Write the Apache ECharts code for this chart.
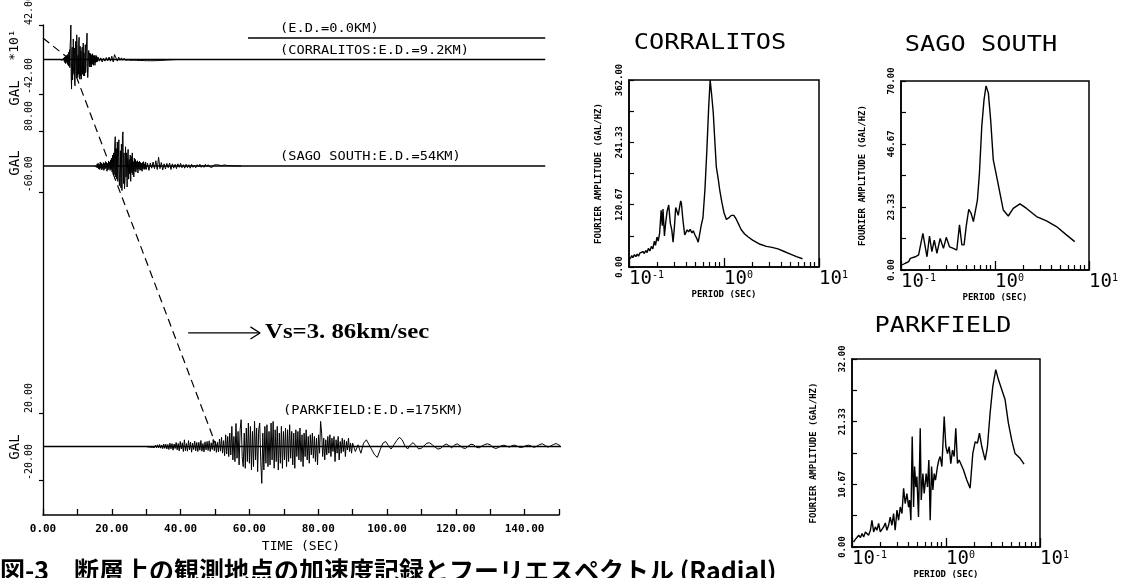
<!DOCTYPE html>
<html><head><meta charset="utf-8">
<script src="https://cdn.jsdelivr.net/npm/echarts@6/dist/echarts.min.js"></script>
<style>html,body{margin:0;padding:0;background:#fff}#c{width:1124px;height:578px}</style>
</head><body><div id="c"></div>
<script>
// ---------- time axis ----------
const timeLabels = [0, 20, 40, 60, 80, 100, 120, 140];

// ---------- accelerograms (sampled segments) ----------
// CORRALITOS (x10 GAL)
const corrA_t0 = 5.0, corrA_dt = 0.1;
const corrAccA = [
 0,0.5,-0.5,0.8,-0.6,1,-1,0.5,-0.8,1.2,
 -1.5,2,-2.5,3,-4,3.5,-5,4,-3,5,
 -4,6,-6,4,-8,9,-7,12,-10,18,
 25,42,-20,-36,10,15,-25,-12,25,8,
 -18,14,-28,-32,12,22,-15,-20,30,18,
 -10,-22,5,-18,20,27,-12,-24,16,-20,
 10,-24,-16,12,15,-18,-10,20,-20,8,
 -14,-20,6,18,-16,-8,14,22,32,-10,
 -22,-14,6,11,-6,-9,8,-5,7,-9,
 5,-9,6,-6,7,-4,5,-7,4,-3,
 5,-7,3,-4,5,-3,4,-3,2,-2];
const corrB_t0 = 16.0, corrB_dt = 0.4;
const corrAccB = [
 3,-2,2,-3,1.5,-2,2.5,-1.5,3,-2,
 4,-3,6,8,-2,3,-1,2,-1,1.5,
 -1,1,-0.5,0.5,-1,0,-0.8,-0.5,-1,-1.2,
 -1.3,-1.5,-1.2,-1.5,-1.4,-1.6,-1.5,-1.3,-1.5,-1.4,
 -1.5,-1.3,-1.4,-1.2,-1.3,-1,-1.1,-0.8,-0.9,-0.6,
 -0.6,-0.5,-0.4,-0.3,-0.3,-0.2,-0.1,0,0,0];
// SAGO SOUTH (GAL)
const sagoA_t0 = 15.0, sagoA_dt = 0.15;
const sagoAccA = [
 0,0.5,-1,2,-3,5,-4,6,-7,4,
 -8,9,-5,7,-9,4,-6,8,-10,6,
 -7,10,-5,8,-12,6,-9,11,-6,9,
 -10,14,-8,18,-14,25,-18,30,-20,45,
 67,-25,40,-30,55,-35,20,60,-45,-20,
 35,-50,50,-56,70,78,-40,30,-52,-30,
 44,-25,30,-48,20,38,-30,15,-18,25,
 -35,22,-15,30,-20,10,-25,18,-12,15,
 -14,10,-8,12,-16,9,-7,11,-10,8,
 -9,6,-12,8,-6,10,-8,5,-7,9];
const sagoB_t0 = 30.0, sagoB_dt = 0.4;
const sagoAccB = [
 -8,6,-10,7,-5,9,-6,12,-8,20,
 -6,8,-9,5,-7,6,-4,7,-8,5,
 -5,4,-6,5,-3,6,-4,3,-5,4,
 -4,3,-5,4,-3,2,-4,3,-2,4,
 -3,2,-3,4,-2,3,-2,2,-3,2,
 -2,3,-1.5,2,-2,1,-2,2.5,-1,1,
 -1.5,1,-1,0.5,-0.5,0.5,0,0,0,0];
// PARKFIELD (GAL)
const parkA_t0 = 30.0, parkA_dt = 0.3;
const parkAccA = [
 0,0.3,-0.3,0.5,-0.4,0.6,-0.5,0.4,-0.6,0.8,
 -0.7,1,-0.8,1.2,-1,0.9,-1.3,1.5,-1.1,1.4,
 -1.5,1.2,-1.8,2,-1.4,1.7,-2.2,1.5,-1.2,2.4,
 -2,1.8,-2.6,3,-1.5,2.2,-3,4,-2.5,1.8,
 -2.8,3.5,-2,2.6,-3.4,2,-1.8,3.2,-2.6,2.4,
 -3,2.5,-2.2,3.6,-2.8,1.8,-3.2,2.8,-2,3,
 -2.4,3.4,-3,2.2,-1.8,4.2,-2.6,3,-3.5,2.5,
 -3.2,4.5,-2.8,5.5,-4,3.5,-5.5,7,-4.5,6,
 -6,8,-5,12,-8,6,-9,13.7,-7,9,
 -11,10,16,-6,-12,8,-13,11,-9,14,
 -10,12,-14,9,-12,15,-8,11,-15,10,
 14,-9,-22,8,-14,12,-10,13,-12,9,
 -11,14,-8,15,-13,10,-9,12,-14,8,
 -10,12,-13,9,-8,11,-12,10,-9,13,
 -7,9,-11,8,-13,10,-6,9,-8,11,
 -9,7,-12,8,-6,10,-8,6,-10,7,
 -5,8,-7,6,-9,5,-11,7,-4,15,
 8,-6,5,-8,4,-5,6,-4,7,-6,
 5,-3,6,-9,4,-4,6,-8,3,-4,
 5,-3,4,-6,3,-2,5,-3,2,-4];
const parkB_t0 = 90.0, parkB_dt = 0.8;
const parkAccB = [
 2,-3,1,-4,2,4,1,-2,-5,-6.5,
 -2,2,3,0.5,-1.5,1,3.5,5.5,4,0.5,
 -1.5,1,2.3,0.5,-1.5,-1,0.5,2,2.2,1,
 -0.5,-1.5,-1.2,0.5,1.5,0.5,-0.8,0.8,1.6,0.5,
 -0.8,-1.2,0.2,1.4,1,-0.5,-0.8,0.3,1.2,1.6,
 1,-0.5,-1.2,-0.6,0.4,0.8,0.2,-0.4,0.6,0.8,
 0,-0.6,-0.3,0.5,0.8,0.2,-0.5,0.2,1.2,1.6,
 0.6,-0.4,0.3,1.2,1.8,0.8,0.5,0.9,0];
const corrBaseEnd = 146, sagoBaseEnd = 146, parkBaseEnd = 152.4;

// travel-time line (time s, epicentral distance km)
const arrivalTime = [0, 7.8, 50.5];
const arrivalDist = [0, 9.2, 175];
const edZeroSpan = [59.6, 146];
const arrowTime = [42.2, 63.1];
const arrowDist = 126.2;

// y tick values
const corrTicks = [-42, 42];
const sagoTicks = [-60, 80];
const parkTicks = [-20, 20];

// ---------- Fourier spectra ----------
const decadeTicks = [-1, 0, 1]; // log10(period)
const minorPeriods = [0.2,0.3,0.4,0.5,0.6,0.7,0.8,0.9,2,3,4,5,6,7,8,9];

const corrPeriod = [0.103,0.107,0.110,0.114,0.118,0.122,0.126,0.130,0.135,0.140,0.145,0.150,0.155,0.160,0.166,0.172,0.178,0.185,0.190,0.197,0.203,0.210,0.218,0.224,0.228,0.236,0.243,0.252,0.262,0.272,0.282,0.291,0.300,0.310,0.320,0.330,0.340,0.350,0.356,0.370,0.386,0.400,0.410,0.425,0.440,0.460,0.475,0.495,0.515,0.535,0.550,0.575,0.600,0.630,0.660,0.690,0.715,0.740,0.770,0.800,0.830,0.870,0.900,0.950,1.000,1.060,1.120,1.200,1.270,1.350,1.450,1.520,1.650,1.800,2.000,2.400,2.800,3.200,3.700,4.300,5.000,5.800,6.700];
const corrAmp = [16,22,18,24,20,25,21,27,24,30,26,32,28,36,31,40,35,50,42,58,50,65,110,80,112,60,85,108,120,85,72,48,75,115,108,100,115,128,124,90,62,68,72,68,73,66,70,62,56,48,60,80,95,150,226,310,362,335,300,245,194,170,150,125,105,92,95,100,100,92,80,72,64,58,52,44,40,38,35,30,25,20,16];
const corrYTicks = [0,60.33,120.67,181,241.33,301.67,362];
const corrYLabels = [0,120.67,241.33,362];

const sagoPeriod = [0.1025,0.111,0.1206,0.1256,0.131,0.142,0.154,0.160,0.171,0.181,0.189,0.201,0.213,0.226,0.241,0.261,0.283,0.303,0.328,0.361,0.392,0.419,0.444,0.469,0.493,0.526,0.557,0.589,0.614,0.650,0.683,0.723,0.764,0.803,0.850,0.899,0.959,1.042,1.130,1.225,1.384,1.564,1.840,2.166,2.765,3.530,4.505,5.75,7.05];
const sagoAmp = [1.85,2.5,3.1,4.3,3.7,4.9,5.6,8.6,13.6,8.6,4.9,12.6,6.8,11.1,6.2,11.7,8.0,12.1,8.6,8.0,7.4,16.7,9.3,9.3,16.0,22.5,21.0,17.9,17.9,25.9,35.8,53.1,63.0,68.2,65.5,55.6,40.8,34.6,28.4,22.2,20.0,22.8,24.5,22.8,19.8,18.2,16.1,13.0,10.5];
const sagoYTicks = [0,11.67,23.33,35,46.67,58.33,70];
const sagoYLabels = [0,23.33,46.67,70];

const parkPeriod = [0.104,0.108,0.113,0.118,0.123,0.128,0.133,0.139,0.150,0.157,0.163,0.170,0.177,0.184,0.192,0.200,0.217,0.226,0.235,0.245,0.255,0.266,0.277,0.288,0.301,0.313,0.326,0.340,0.354,0.368,0.384,0.400,0.410,0.423,0.437,0.452,0.463,0.478,0.490,0.510,0.532,0.545,0.568,0.586,0.615,0.636,0.657,0.679,0.702,0.725,0.749,0.773,0.812,0.839,0.867,0.904,0.957,0.996,1.038,1.081,1.125,1.172,1.221,1.271,1.325,1.380,1.438,1.535,1.664,1.805,1.927,2.042,2.161,2.270,2.403,2.608,2.760,2.946,3.144,3.383,3.609,3.916,4.250,4.610,5.003,5.428,6.137,6.764];
const parkAmp = [0.85,1.25,1.42,2.0,1.6,2.3,1.7,2.56,2.0,2.85,4.55,2.56,3.42,2.85,4.0,2.56,3.42,4.1,2.85,3.7,5.1,3.7,5.7,2.85,6.3,4.55,6.8,5.7,10.0,7.4,9.1,6.8,8.0,4.55,18.8,6.8,13.7,10.2,12.0,5.1,20.2,8.0,12.5,9.1,12.5,10.2,14.8,4.55,13.7,9.7,12.5,11.4,13.7,14.8,15.4,13.7,22.2,17.1,15.9,17.1,14.2,16.5,15.4,20.2,14.2,14.8,14.8,13.1,11.4,10.0,15.9,17.9,17.7,19.4,17.1,14.8,17.1,22.8,27.3,30.2,28.5,26.8,25.1,21.1,18.2,15.9,15.1,14.1];
const parkYTicks = [0,5.33,10.67,16,21.33,26.67,32];
const parkYLabels = [0,10.67,21.33,32];

// ---------- build ----------
const MONO = '"DejaVu Sans Mono", monospace';
const K = '#000';
function seg(t0, dt, vals) { return vals.map((v, i) => [+(t0 + i * dt).toFixed(3), v]); }
function spec(periods, amps) { return periods.map((p, i) => [Math.log10(p), amps[i]]); }
const minorLog = minorPeriods.map(p => Math.log10(p));

const corrData = seg(corrA_t0, corrA_dt, corrAccA).concat(seg(corrB_t0, corrB_dt, corrAccB));
const sagoData = seg(sagoA_t0, sagoA_dt, sagoAccA).concat(seg(sagoB_t0, sagoB_dt, sagoAccB));
const parkData = seg(parkA_t0, parkA_dt, parkAccA).concat(seg(parkB_t0, parkB_dt, parkAccB));

const gBase = { containLabel: false, outerBoundsMode: 'none' };
const grids = [
  Object.assign({ left: 43, top: 25, width: 516, height: 490 }, gBase),
  Object.assign({ left: 43, top: 25, width: 516, height: 69 }, gBase),
  Object.assign({ left: 43, top: 131, width: 516, height: 70 }, gBase),
  Object.assign({ left: 43, top: 413, width: 516, height: 67 }, gBase),
  Object.assign({ left: 629, top: 80, width: 190, height: 187, show: true, borderColor: K, borderWidth: 1.5 }, gBase),
  Object.assign({ left: 901, top: 81, width: 188, height: 189, show: true, borderColor: K, borderWidth: 1.5 }, gBase),
  Object.assign({ left: 852, top: 359, width: 188, height: 188, show: true, borderColor: K, borderWidth: 1.5 }, gBase)
];

const xAxes = [
  { type: 'value', gridIndex: 0, position: 'bottom', min: 0, max: 150, interval: 10,
    axisLine: { onZero: false, lineStyle: { color: K, width: 1.5 } },
    axisTick: { inside: true, length: 6, lineStyle: { color: K, width: 1.3 } },
    axisLabel: { customValues: timeLabels, formatter: v => v.toFixed(2), color: K, fontFamily: MONO, fontWeight: 'bold', fontSize: 11, margin: 9 },
    splitLine: { show: false },
    name: 'TIME (SEC)', nameLocation: 'middle', nameGap: 23,
    nameTextStyle: { color: K, fontFamily: MONO, fontSize: 13 } },
  { type: 'value', gridIndex: 1, min: 0, max: 150, show: false },
  { type: 'value', gridIndex: 2, min: 0, max: 150, show: false },
  { type: 'value', gridIndex: 3, min: 0, max: 150, show: false }
];
function specX(gi) {
  return [
    { type: 'value', gridIndex: gi, position: 'bottom', min: -1, max: 1,
      axisLine: { onZero: false, lineStyle: { color: K, width: 1.5 } },
      axisTick: { customValues: decadeTicks, inside: true, length: 9, lineStyle: { color: K, width: 1.3 } },
      axisLabel: { customValues: decadeTicks, align: 'left', margin: 3, color: K,
        formatter: v => '{b|10}{s|' + Math.round(v) + '}',
        rich: { b: { fontFamily: MONO, fontSize: 19, color: K }, s: { fontFamily: MONO, fontSize: 10, color: K, verticalAlign: 'top' } } },
      splitLine: { show: false },
      name: 'PERIOD (SEC)', nameLocation: 'middle', nameGap: 22,
      nameTextStyle: { color: K, fontFamily: MONO, fontWeight: 'bold', fontSize: 9 } },
    { type: 'value', gridIndex: gi, position: 'bottom', min: -1, max: 1,
      axisLine: { show: false, onZero: false },
      axisTick: { customValues: minorLog, inside: true, length: 5, lineStyle: { color: K, width: 1.2 } },
      axisLabel: { show: false }, splitLine: { show: false } }
  ];
}
xAxes.push(...specX(4), ...specX(5), ...specX(6));

function traceY(gi, min, max, ticks) {
  return { type: 'value', gridIndex: gi, min: min, max: max,
    axisLine: { show: false, onZero: false },
    axisTick: { customValues: ticks, length: 4, lineStyle: { color: K, width: 1.2 } },
    axisLabel: { customValues: ticks, rotate: 90, align: 'left', margin: 9, color: K, fontFamily: MONO, fontSize: 10, formatter: v => v.toFixed(2) },
    splitLine: { show: false } };
}
function specY(gi, max, ticks, labels, gap) {
  return { type: 'value', gridIndex: gi, position: 'left', min: 0, max: max,
    axisLine: { onZero: false, lineStyle: { color: K, width: 1.5 } },
    axisTick: { customValues: ticks, inside: true, length: 5, lineStyle: { color: K, width: 1.2 } },
    axisLabel: { customValues: labels, rotate: 90, margin: 5, color: K, fontFamily: MONO, fontWeight: 'bold', fontSize: 9, formatter: v => v.toFixed(2) },
    splitLine: { show: false },
    name: 'FOURIER AMPLITUDE (GAL/HZ)', nameLocation: 'middle', nameGap: gap,
    nameTextStyle: { color: K, fontFamily: MONO, fontWeight: 'bold', fontSize: 9 } };
}
const yAxes = [
  { type: 'value', gridIndex: 0, inverse: true, min: -5.56, max: 204.1,
    axisLine: { show: true, onZero: false, lineStyle: { color: K, width: 1.3 } },
    axisTick: { show: false }, axisLabel: { show: false }, splitLine: { show: false } },
  traceY(1, -42, 42, corrTicks),
  traceY(2, -80, 80, sagoTicks),
  traceY(3, -20, 20, parkTicks),
  specY(4, 362, corrYTicks, corrYLabels, 26),
  specY(5, 70, sagoYTicks, sagoYLabels, 34),
  specY(6, 32, parkYTicks, parkYLabels, 34)
];

function line(xi, yi, data, width, extra) {
  return Object.assign({ type: 'line', xAxisIndex: xi, yAxisIndex: yi, data: data, symbol: 'none', showSymbol: false,
    lineStyle: { color: K, width: width }, clip: false, silent: true, animation: false }, extra || {});
}
const series = [
  line(0, 0, arrivalTime.map((t, i) => [t, arrivalDist[i]]), 1.2, { lineStyle: { color: K, width: 1.2, type: [8, 5] } }),
  line(0, 0, [[edZeroSpan[0], 0], [edZeroSpan[1], 0]], 1.3),
  line(0, 0, [[arrowTime[0], arrowDist], [arrowTime[1], arrowDist]], 1.3),
  line(0, 0, [[arrowTime[1] - 2.8, arrowDist - 2.6], [arrowTime[1], arrowDist], [arrowTime[1] - 2.8, arrowDist + 2.6]], 1.3),
  line(1, 1, [[0, 0], [corrBaseEnd, 0]], 1.3),
  line(1, 1, corrData, 1),
  line(2, 2, [[0, 0], [sagoBaseEnd, 0]], 1.3),
  line(2, 2, sagoData, 1),
  line(3, 3, [[0, 0], [parkBaseEnd, 0]], 1.3),
  line(3, 3, parkData, 1),
  line(4, 4, spec(corrPeriod, corrAmp), 1.4),
  line(6, 5, spec(sagoPeriod, sagoAmp), 1.4),
  line(8, 6, spec(parkPeriod, parkAmp), 1.4)
];

function txt(x, y, text, font, opt) {
  return Object.assign({ type: 'text', x: x, y: y, silent: true,
    style: Object.assign({ text: text, font: font, fill: K, align: 'left', verticalAlign: 'middle' }, (opt && opt.style) || {}) },
    opt ? { rotation: opt.rotation || 0, scaleX: opt.scaleX || 1 } : {});
}
const lab = '13px ' + MONO;
const graphics = [
  txt(280, 29, '(E.D.=0.0KM)', lab, { scaleX: 1.05 }),
  txt(280, 51, '(CORRALITOS:E.D.=9.2KM)', lab, { scaleX: 1.05 }),
  txt(280, 157, '(SAGO SOUTH:E.D.=54KM)', lab, { scaleX: 1.05 }),
  txt(283, 411, '(PARKFIELD:E.D.=175KM)', lab, { scaleX: 1.05 }),
  txt(15, 45, '*10¹', '13px ' + MONO, { rotation: Math.PI / 2, style: { align: 'center' } }),
  txt(15, 93, 'GAL', '14px ' + MONO, { rotation: Math.PI / 2, style: { align: 'center' } }),
  txt(15, 163, 'GAL', '14px ' + MONO, { rotation: Math.PI / 2, style: { align: 'center' } }),
  txt(15, 447, 'GAL', '14px ' + MONO, { rotation: Math.PI / 2, style: { align: 'center' } }),
  txt(265, 333, 'Vs=3. 86km/sec', 'bold 21px "Liberation Serif", serif', { scaleX: 1.18 }),
  txt(710, 43, 'CORRALITOS', '22px ' + MONO, { scaleX: 1.15, style: { align: 'center' } }),
  txt(981, 45, 'SAGO SOUTH', '22px ' + MONO, { scaleX: 1.15, style: { align: 'center' } }),
  txt(943, 326, 'PARKFIELD', '22px ' + MONO, { scaleX: 1.15, style: { align: 'center' } }),
  txt(0, 570, '図-3　断層上の観測地点の加速度記録とフーリエスペクトル (Radial)', 'bold 25px "Noto Sans CJK JP", sans-serif')
];

const chart = echarts.init(document.getElementById('c'), null, { renderer: 'canvas' });
chart.setOption({
  backgroundColor: '#fff',
  animation: false,
  grid: grids,
  xAxis: xAxes,
  yAxis: yAxes,
  series: series,
  graphic: graphics
});
</script>
</body></html>
